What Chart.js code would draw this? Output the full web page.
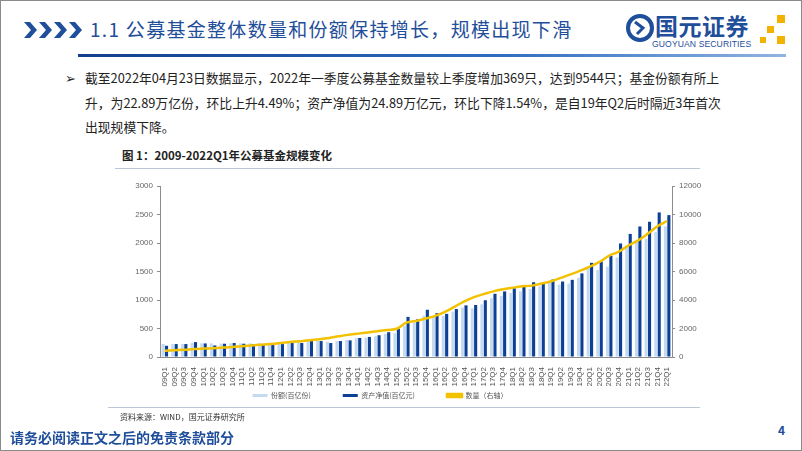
<!DOCTYPE html>
<html>
<head>
<meta charset="utf-8">
<script src="https://cdn.jsdelivr.net/npm/chart.js@4.4.1/dist/chart.umd.min.js"></script>
<style>
  html, body { margin: 0; padding: 0; background: #fff; }
  body { width: 802px; height: 451px; position: relative; overflow: hidden;
         font-family: "Noto Sans CJK SC", "Liberation Sans", sans-serif; }
  .frame { position: absolute; left: 0; top: 0; width: 800px; height: 449px; border: 1px solid #8a8a8a; }
  .abs { position: absolute; white-space: nowrap; }
  .title { left: 90px; top: 15px; font-size: 19px; color: #1f4e9a; letter-spacing: 1.3px; }
  .hline { left: 78px; top: 54px; width: 708px; height: 3px;
           background: linear-gradient(to right, #123f8c, #2f6cc0 60%, #8fb4e0); }
  .para { left: 85px; font-size: 12.8px; color: #222; }
  .figt { left: 122px; top: 147px; font-size: 11.5px; font-weight: bold; color: #222; }
  .rule { left: 115px; height: 1px; width: 585px; background: #b9c6d8; }
  .src { left: 120px; top: 411px; font-size: 8px; color: #333; }
  .foot { left: 10px; top: 427px; font-size: 14px; font-weight: bold; color: #1f4e9a; }
  .pg { left: 778px; top: 421px; font-size: 12px; font-weight: bold; color: #1f4e9a; }
  #wrap { position: absolute; left: 112px; top: 176px; width: 600px; height: 260px; }
</style>
</head>
<body>
<div class="frame"></div>

<svg class="abs" style="left:24px;top:20px" width="64" height="20">
  <polygon points="0,2 6,2 13,10 6,18 0,18 7,10" fill="#1f4e9a"/>
  <polygon points="15,2 21,2 28,10 21,18 15,18 22,10" fill="#1f4e9a"/>
  <polygon points="30,2 36,2 43,10 36,18 30,18 37,10" fill="#1f4e9a"/>
  <polygon points="45,2 51,2 58,10 51,18 45,18 52,10" fill="#1f4e9a"/>
</svg>
<div class="abs title">1.1 公募基金整体数量和份额保持增长，规模出现下滑</div>

<svg class="abs" style="left:626px;top:12px" width="28" height="32">
  <circle cx="14" cy="16" r="12" fill="none" stroke="#1f4e9a" stroke-width="4"/>
  <path d="M9 10 L17 16 L11 22" fill="none" stroke="#1f4e9a" stroke-width="3"/>
</svg>
<div class="abs" style="left:655px;top:8px;font-size:23px;font-weight:bold;color:#1f4e9a;letter-spacing:0.5px">国元证券</div>
<div class="abs" style="left:652px;top:39px;font-size:8.6px;color:#1f4e9a;font-family:'Liberation Sans';letter-spacing:0.1px">GUOYUAN SECURITIES</div>
<svg class="abs" style="left:758px;top:14px" width="30" height="32">
  <rect x="19" y="1" width="8" height="8" fill="#f3b200"/>
  <rect x="9" y="12" width="7" height="7" fill="#f3b200"/>
  <rect x="2" y="23" width="6" height="6" fill="#f3b200"/>
  <rect x="19" y="22" width="8" height="8" fill="#f3b200"/>
</svg>
<div class="abs hline"></div>

<div class="abs" style="left:65px;top:68px;font-size:13px;color:#222">➢</div>
<div class="abs para" style="top:68px">截至2022年04月23日数据显示，2022年一季度公募基金数量较上季度增加369只，达到9544只；基金份额有所上</div>
<div class="abs para" style="top:93px">升，为22.89万亿份，环比上升4.49%；资产净值为24.89万亿元，环比下降1.54%，是自19年Q2后时隔近3年首次</div>
<div class="abs para" style="top:117px">出现规模下降。</div>

<div class="abs figt">图 1：2009-2022Q1年公募基金规模变化</div>
<div class="abs rule" style="top:168px"></div>

<div id="wrap"><canvas id="c"></canvas></div>

<div class="abs rule" style="top:407px;left:108px;width:592px"></div>
<div class="abs src">资料来源：WIND，国元证券研究所</div>
<div class="abs foot">请务必阅读正文之后的免责条款部分</div>
<div class="abs pg">4</div>

<script>
// quarters shown on the x axis
const quarters = ["09Q1","09Q2","09Q3","09Q4","10Q1","10Q2","10Q3","10Q4",
  "11Q1","11Q2","11Q3","11Q4","12Q1","12Q2","12Q3","12Q4",
  "13Q1","13Q2","13Q3","13Q4","14Q1","14Q2","14Q3","14Q4",
  "15Q1","15Q2","15Q3","15Q4","16Q1","16Q2","16Q3","16Q4",
  "17Q1","17Q2","17Q3","17Q4","18Q1","18Q2","18Q3","18Q4",
  "19Q1","19Q2","19Q3","19Q4","20Q1","20Q2","20Q3","20Q4",
  "21Q1","21Q2","21Q3","21Q4","22Q1"];

// 份额 (百亿份)
const shares = [228,225,230,245,240,238,235,240,
  238,240,245,250,252,258,262,285,
  282,268,280,300,330,340,365,405,
  417,549,602,727,704,716,793,865,
  853,924,1032,1073,1121,1151,1193,1240,
  1300,1270,1288,1389,1568,1527,1586,1747,
  1956,2015,2075,2194,2289];

// 资产净值 (百亿元)
const netAssets = [197,227,227,262,238,203,233,245,
  233,227,209,215,227,245,245,280,
  280,245,280,292,334,352,382,435,
  495,704,662,829,769,757,841,906,
  912,996,1109,1151,1205,1234,1312,1282,
  1360,1324,1354,1467,1652,1676,1771,1992,
  2159,2290,2373,2536,2489];

// 数量 (右轴, 只)
const fundCount = [440,480,510,557,590,620,660,704,
  760,810,860,914,980,1050,1110,1173,
  1250,1340,1450,1552,1640,1720,1810,1897,
  1980,2409,2528,2700,2886,3172,3530,3900,
  4198,4413,4604,4750,4866,4961,5009,5152,
  5319,5557,5796,6058,6344,6679,7108,7394,
  7823,8181,8658,9175,9544];

const axisGray = '#8c8c8c';
const tickFont = { family: 'Liberation Sans', size: 8 };

// legend sits a bit left and closer to the axis labels than Chart.js puts it
const legendShift = {
  id: 'legendShift',
  afterLayout(chart) {
    const lg = chart.legend;
    lg.left -= 32; lg.right -= 32;
    lg.top -= 27; lg.bottom -= 27;
  }
};

new Chart(document.getElementById('c'), {
  data: {
    labels: quarters,
    datasets: [
      {
        type: 'line', label: '数量（右轴）', data: fundCount, yAxisID: 'y1',
        borderColor: '#f2c200', backgroundColor: '#f2c200', borderWidth: 2.5,
        pointRadius: 0, tension: 0.4, order: 0
      },
      {
        type: 'bar', label: '份额(百亿份)', data: shares, yAxisID: 'y',
        backgroundColor: '#c3daf0', categoryPercentage: 0.7, barPercentage: 0.92, order: 1
      },
      {
        type: 'bar', label: '资产净值(百亿元)', data: netAssets, yAxisID: 'y',
        backgroundColor: '#0d3f94', categoryPercentage: 0.7, barPercentage: 0.92, order: 1
      }
    ]
  },
  plugins: [legendShift],
  options: {
    responsive: true,
    maintainAspectRatio: false,
    animation: false,
    layout: { padding: { top: 10, right: 0, left: 0, bottom: 0 } },
    plugins: {
      tooltip: { enabled: false },
      legend: {
        position: 'bottom',
        labels: {
          boxWidth: 15, boxHeight: 3, padding: 32,
          color: '#555', font: { size: 7, family: 'Noto Sans CJK SC' },
          sort: (a, b) => b.datasetIndex === 0 ? -1 : (a.datasetIndex === 0 ? 1 : a.datasetIndex - b.datasetIndex)
        }
      }
    },
    scales: {
      x: {
        grid: { display: false },
        border: { color: axisGray },
        ticks: { minRotation: 90, maxRotation: 90, autoSkip: false, color: '#555', font: tickFont, padding: 2 },
        afterFit: s => { s.height = 30; }
      },
      y: {
        position: 'left', min: 0, max: 3000,
        ticks: { stepSize: 500, color: '#666', font: tickFont, padding: 4, callback: v => String(v) },
        grid: { drawOnChartArea: false, tickLength: 3, color: axisGray },
        border: { color: axisGray },
        afterFit: s => { s.width = 48; }
      },
      y1: {
        position: 'right', min: 0, max: 12000,
        ticks: { stepSize: 2000, color: '#666', font: tickFont, padding: 4, callback: v => String(v) },
        grid: { drawOnChartArea: false, tickLength: 3, color: axisGray },
        border: { color: axisGray },
        afterFit: s => { s.width = 40; }
      }
    }
  }
});
</script>
</body>
</html>
